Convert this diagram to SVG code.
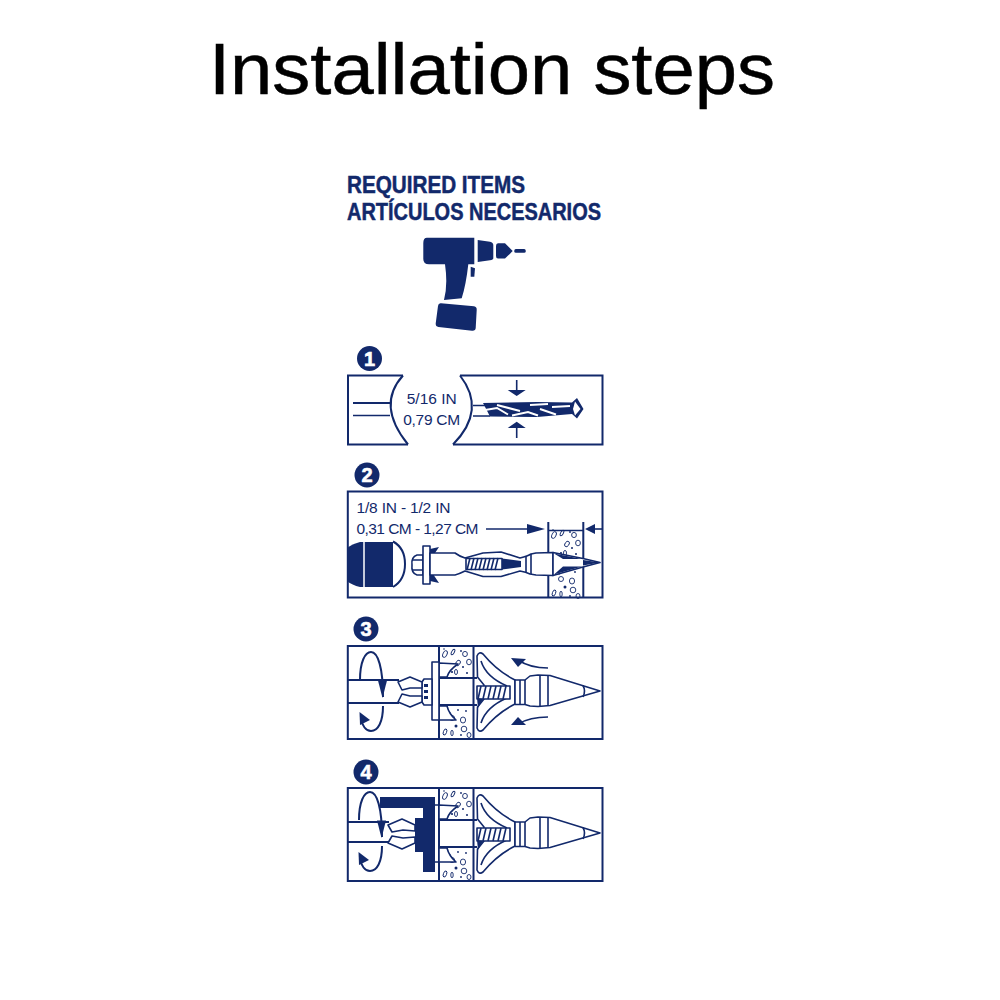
<svg xmlns="http://www.w3.org/2000/svg" width="1000" height="1000" viewBox="0 0 1000 1000">
<style>
.t{fill:#000;stroke:#000;stroke-width:.5;font-family:"Liberation Sans",Arial,sans-serif}
.h{fill:#12296b;stroke:#12296b;stroke-width:.5;font-family:"Liberation Sans",Arial,sans-serif;font-weight:700;font-size:24px}
.l{fill:#12296b;font-family:"Liberation Sans",sans-serif;font-size:15.5px}
.n{fill:#fff;stroke:#fff;stroke-width:.6;font-family:"Liberation Sans",Arial,sans-serif;font-weight:700;font-size:20px;text-anchor:middle}
.d{fill:#12296b;stroke:none}
.s{fill:none;stroke:#12296b;stroke-width:1.6}
.b{fill:none;stroke:#12296b;stroke-width:2}
.w{fill:#fff;stroke:#12296b;stroke-width:1.6;stroke-linejoin:round}
.c{fill:none;stroke:#12296b;stroke-width:.9}
</style>
<defs>
<g id="specks-top">
<ellipse class="c" cx="445" cy="654" rx="2" ry="3.500" transform="rotate(25 445 654)"/><ellipse class="c" cx="453" cy="652" rx="1.300" ry="3" transform="rotate(30 453 652)"/><ellipse class="c" cx="465" cy="654" rx="2.400" ry="2.600"/><ellipse class="c" cx="469" cy="662" rx="2.400" ry="2.800"/><ellipse class="c" cx="458" cy="663" rx="2" ry="3" transform="rotate(35 458 663)"/><circle class="d" cx="461" cy="651" r=".9"/><circle class="d" cx="463" cy="667" r="1"/><circle class="d" cx="467" cy="673" r="1"/><circle class="d" cx="452" cy="672" r="1.100"/><circle class="d" cx="444" cy="649" r=".8"/><ellipse class="c" cx="456" cy="672" rx="1.500" ry="2.600"/>
</g>
<g id="specks-bot">
<ellipse class="c" cx="452" cy="718" rx="2.500" ry="2.500"/><ellipse class="c" cx="463" cy="720" rx="2.600" ry="3"/><circle class="d" cx="456" cy="726" r="1.500"/><ellipse class="c" cx="445" cy="732" rx="1.600" ry="3.200" transform="rotate(20 445 732)"/><ellipse class="c" cx="452" cy="733" rx="1.200" ry="2.800"/><ellipse class="c" cx="464" cy="729" rx="2.800" ry="2.800"/><ellipse class="c" cx="469" cy="735" rx="2" ry="2.500"/><circle class="d" cx="458" cy="710" r=".9"/><circle class="d" cx="466" cy="711" r=".9"/><circle class="d" cx="450" cy="713" r=".8"/><circle class="d" cx="461" cy="735" r=".9"/>
</g>
<g id="assembly">
<path class="b" d="M439 645V739M473.500 645V739"/>
<use href="#specks-top"/><use href="#specks-bot"/>
<path class="b" d="M439 678H477M439 705H477"/>
<path class="w" d="M439 663L458 664Q449 670 447 677L439 677Z"/>
<path class="w" d="M439 706L447 706Q449 714 456 720L439 720Z"/>
<path class="w" stroke-width="2" d="M477 656Q479 651 483 654Q497 671 515 680V704Q497 713 483 730Q479 733 477 728L477.500 707L484 699V685L477.500 677Z"/>
<path class="s" d="M481 661Q486 677 507 686M481 723Q486 707 507 698"/>
<rect class="w" x="477" y="686" width="33" height="13"/>
<path class="s" d="M481 686L478 699M486 686L483 699M491 686L488 699M496 686L493 699M501 686L498 699M506 686L503 699"/>
<path class="d" d="M477 698L483 699L478 708Z"/>
<path class="w" stroke-width="2" d="M515 680H525L530 676L538 675L550 675.500L600 691L550 705.500L538 706.500L530 706L525 704.500H515Z"/>
<path class="s" d="M520 680V704.500M525 680V704.500M540 675V706.500M548 675.500V706M583 685.500Q586 691 583 697"/>
</g>
<g id="rotate">
<path class="b" d="M360 680C360 662 365 652 371 652C378 652 383 668 383 697"/>
<path class="d" d="M378 680.500L387 680.500L382.500 698Z"/>
<path class="b" d="M383 706C383 722 378 731 371 731C366 731 362 726 361 718"/>
<path class="d" d="M359.500 712L370 720L360 725Z"/>
</g>
</defs>

<text class="t" x="492" y="94" font-size="72" text-anchor="middle" textLength="566" lengthAdjust="spacingAndGlyphs">Installation steps</text>

<g id="required">
<text class="h" x="347" y="193" textLength="178" lengthAdjust="spacingAndGlyphs">REQUIRED ITEMS</text>
<text class="h" x="347" y="220" textLength="254" lengthAdjust="spacingAndGlyphs">ARTÍCULOS NECESARIOS</text>
<path class="d" d="M427 237.700H474.300V264.300H468.300Q466 285 461.700 298.300L444 300Q448 285 445 264.300H429Q423.300 264.300 423.300 259V243Q423.300 237.700 427 237.700Z"/>
<path class="d" d="M477.700 240L490 241.700Q493.300 242.500 493.300 245V258.300Q493.300 260 490 260.300L477.700 262Z"/>
<path class="d" d="M498 243.300H505L512.700 251L505 258.600H498Q496 258.600 496 256V246Q496 243.300 498 243.300Z"/>
<rect class="d" x="514.300" y="249" width="11.400" height="3.700" rx="1.500"/>
<path class="d" d="M470.700 266.700L475 268.300L474.300 276.700H470.700Z"/>
<path class="d" d="M441 303.300L474 306.300Q477 307 476.700 310L475.700 328Q475.500 331 472 330.700L438.500 327Q435.500 326.500 435.700 323.500L438 306Q438.300 303 441 303.300Z"/>
</g>

<g id="step-1">
<circle class="d" cx="369.500" cy="358.500" r="12.500"/><text class="n" x="369.500" y="365.500">1</text>
<path class="b" d="M403 375.500H348V444.500H408"/>
<path class="b" d="M403 375.500Q376 405 408 444.500"/>
<path class="b" d="M460 375.500H602.500V444.500H453"/>
<path class="b" d="M460 375.500Q487 410 453 444.500"/>
<path class="b" d="M353 403H390"/><path class="s" d="M353 415.500H390"/>
<text class="l" x="431.700" y="404" text-anchor="middle" textLength="50" lengthAdjust="spacing">5/16 IN</text>
<text class="l" x="431.700" y="425" text-anchor="middle" textLength="57" lengthAdjust="spacing">0,79 CM</text>
<path class="s" d="M473 405.500H490M473 416H490"/>
<path class="d" d="M483 403L537 402L572 402.500L577 398L583.500 409L577 418.500L572 414L537 417L490 416.500Z"/>
<path d="M482 410.500L497 408L508 414.500M497 405L520 411M512 415.500L528 412L538 415.500M530 405L548 404M540 409L556 414.500M552 407L570 406" fill="none" stroke="#fff" stroke-width="2"/>
<path d="M575 401.500L580.500 409L575 415.500L573 409Z" fill="#fff"/>
<path class="s" d="M516.700 380V391M516.700 427V438"/>
<path class="d" d="M507.700 390H525.700L516.700 396ZM507.700 428H525.700L516.700 421.700Z"/>
</g>

<g id="step-2">
<circle class="d" cx="367" cy="475" r="12.500"/><text class="n" x="367" y="482">2</text>
<rect class="b" x="347.800" y="491.500" width="254.700" height="106"/>
<text class="l" x="356.500" y="513" textLength="94" lengthAdjust="spacing">1/8 IN - 1/2 IN</text>
<text class="l" x="356.500" y="534" textLength="122" lengthAdjust="spacing">0,31 CM - 1,27 CM</text>
<path class="s" d="M486 529H530"/><path class="d" d="M527 524L545 529L527 534Z"/>
<path class="s" d="M602 529H592"/><path class="d" d="M585 529L595 524V534Z"/>
<path class="b" d="M548.300 522V598M583.300 522V598"/>
<path class="s" d="M548 530.500H583"/>
<g transform="translate(109 -119)"><use href="#specks-top"/></g>
<g transform="translate(109 -139)"><use href="#specks-bot"/></g>
<path class="d" d="M347 548Q352 544 360 542H393V587H360Q352 585 347 581Z"/>
<path d="M364 542V587" stroke="#fff" stroke-width="1.500"/>
<path class="b" d="M393 541.500Q405 548 405 564Q405 580 393 587"/>
<path class="w" d="M423 555H417Q411 557 412 565Q411 573 417 575H423Z"/>
<path class="s" d="M413 560H423M413 570H423"/>
<rect class="w" x="423" y="546" width="7" height="38"/>
<path class="d" d="M430 549L439 547L433 556H430ZM430 581L439 583L433 574H430Z"/>
<path class="w" d="M430 553H455Q459 556 465 558L483 553L501 552L520 558Q528 556 531 554L536 553L553 552.500L553 575.500L536 575L530 574Q526 572 520 571L501 576.500L483 576.500L465 571Q459 574 455 575H430Z"/>
<rect class="w" x="466" y="558.500" width="36" height="11"/>
<path class="s" d="M470 558L467 570M474 558L471 570M478 558L475 570M482 558L479 570M486 558L483 570M490 558L487 570M494 558L491 570M498 558L495 570"/>
<path class="d" d="M502 558.500L521 561V567L502 569.500Z"/>
<path class="s" d="M526 556V573M531 554V574"/>
<path class="w" d="M553 552.500L583 558.500L600 562.500L583 567L553 575.500Z"/>
<path class="d" d="M554 553.500L582 559L563 559ZM554 574.500L582 566.500L563 566.500Z"/>
<path class="d" d="M583 560L600 562.500L583 565.500Z"/>
</g>

<g id="step-3">
<circle class="d" cx="366" cy="629" r="12.500"/><text class="n" x="366" y="636">3</text>
<rect class="b" x="347.800" y="646" width="254.700" height="93"/>
<use href="#assembly"/>
<path class="b" d="M348 680H399M348 703H399"/>
<use href="#rotate"/>
<rect class="w" x="432" y="662" width="7" height="58"/>
<path class="w" d="M424 679H432V705H424L422 702V682Z"/>
<path class="w" stroke-width="2" d="M398 682L410 677L422 682V688L410 688L402 690ZM398 702L410 707L422 702V696L410 696L402 694Z"/>
<path class="d" d="M424 684h4v3h-4zM424 690h4v3h-4zM424 696h4v3h-4z"/>
<path class="s" d="M548 668Q530 668 518 660M548 717Q530 717 518 724"/>
<path class="d" d="M511 658L526 659L518 667ZM511 725L526 725L518 717Z"/>
</g>

<g id="step-4">
<circle class="d" cx="366" cy="772" r="12.500"/><text class="n" x="366" y="779">4</text>
<rect class="b" x="347.800" y="788" width="254.700" height="93"/>
<g transform="translate(0 142)"><use href="#assembly"/></g>
<path class="b" d="M348 822H389M348 842H389"/>
<g transform="translate(-1 140)"><use href="#rotate"/></g>
<path class="d" d="M380 797H435V872H423V852H415V818H423V808H380Z"/>
<path class="w" stroke-width="2.400" d="M388 825L402 819L415 825V831L403 830L392 832ZM388 843L402 849L415 843V837L403 838L392 836Z"/>
<path class="s" d="M435 805H439M435 862H439"/>
</g>
</svg>
